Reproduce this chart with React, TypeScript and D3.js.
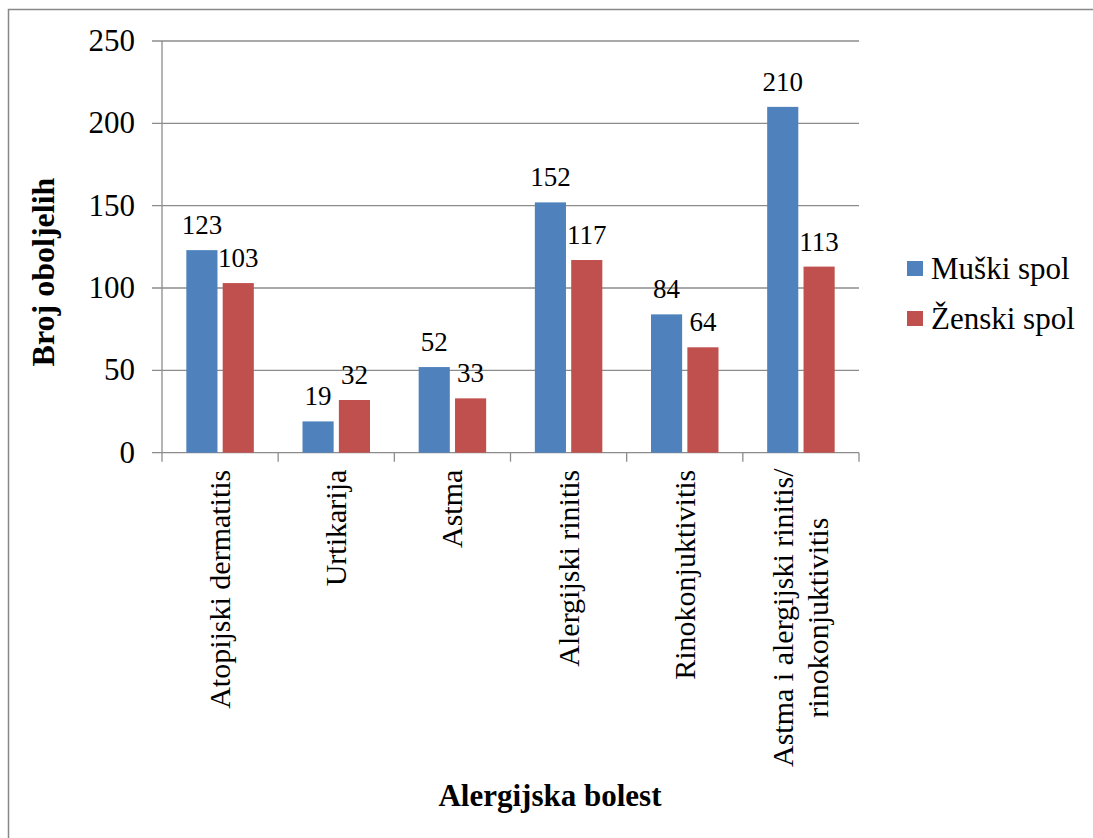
import React from "react";
import * as d3 from "d3";

const categories: string[][] = [
  ["Atopijski dermatitis"],
  ["Urtikarija"],
  ["Astma"],
  ["Alergijski rinitis"],
  ["Rinokonjuktivitis"],
  ["Astma i alergijski rinitis/", "rinokonjuktivitis"],
];
const seriesNames = ["Muški spol", "Ženski spol"];
const muski = [123, 19, 52, 152, 84, 210];
const zenski = [103, 32, 33, 117, 64, 113];
const yTicks = [0, 50, 100, 150, 200, 250];
const colors = ["#4F81BD", "#C0504D"];

const W = 1093;
const H = 838;
const font = "Liberation Serif";

export default function App() {
  const left = 162, right = 859, top = 41, bottom = 452.7;
  const x = d3.scaleBand<number>().domain(d3.range(categories.length)).range([left, right]).padding(0);
  const y = d3.scaleLinear().domain([0, 250]).range([bottom, top]);
  const step = x.bandwidth();
  const barW = step * 0.268;
  const gap = step * 0.045;
  const groupStart = (step - (2 * barW + gap)) / 2;
  const series = [muski, zenski];

  return (
    <svg width={W} height={H} style={{ display: "block", position: "absolute", left: 0, top: 0, background: "#fff" }}>
      <g fontFamily={font} fontWeight="normal" fill="#000">
        <rect x={8.5} y={9.5} width={W + 10} height={H + 10} fill="none" stroke="#888" strokeWidth={1.5} />
        {yTicks.map((t) => (
          <g key={t}>
            <line x1={left - 10} x2={right} y1={y(t)} y2={y(t)} stroke="#8c8c8c" strokeWidth={1.3} />
            <text x={left - 27} y={y(t) + 10} textAnchor="end" fontSize={31}>
              {t}
            </text>
          </g>
        ))}
        <line x1={left} x2={left} y1={top} y2={bottom} stroke="#8c8c8c" strokeWidth={1.3} />
        {d3.range(categories.length + 1).map((i) => {
          const xx = left + i * step;
          return <line key={i} x1={xx} x2={xx} y1={bottom} y2={bottom + 9} stroke="#8c8c8c" strokeWidth={1.3} />;
        })}
        {series.map((vals, s) =>
          vals.map((v, i) => {
            const bx = (x(i) as number) + groupStart + s * (barW + gap);
            return (
              <g key={`${s}-${i}`}>
                <rect x={bx} y={y(v)} width={barW} height={bottom - y(v)} fill={colors[s]} />
                <text x={bx + barW / 2} y={y(v) - 16} textAnchor="middle" fontSize={27}>
                  {v}
                </text>
              </g>
            );
          })
        )}
        {categories.map((lines, i) => {
          const cx = (x(i) as number) + step / 2;
          const lh = 35;
          const n = lines.length;
          return (
            <g key={i}>
              {lines.map((ln, j) => {
                const off = (j - (n - 1) / 2) * lh;
                const tx = cx + off + 10;
                const ty = bottom + 17;
                return (
                  <text
                    key={j}
                    transform={`translate(${tx},${ty}) rotate(-90)`}
                    textAnchor={n > 1 ? "middle" : "end"}
                    dx={n > 1 ? -148 : 0}
                    fontSize={30}
                  >
                    {ln}
                  </text>
                );
              })}
            </g>
          );
        })}
        <text
          transform={`translate(${54},${272}) rotate(-90)`}
          textAnchor="middle"
          fontSize={32}
          fontWeight="bold"
        >
          Broj oboljelih
        </text>
        <text x={550} y={806} textAnchor="middle" fontSize={31} fontWeight="bold">
          Alergijska bolest
        </text>
        {seriesNames.map((nm, s) => (
          <g key={nm} transform={`translate(907,${261 + s * 50})`}>
            <rect x={0} y={0} width={16} height={15} fill={colors[s]} />
            <text x={24} y={18} fontSize={31}>
              {nm}
            </text>
          </g>
        ))}
      </g>
    </svg>
  );
}
